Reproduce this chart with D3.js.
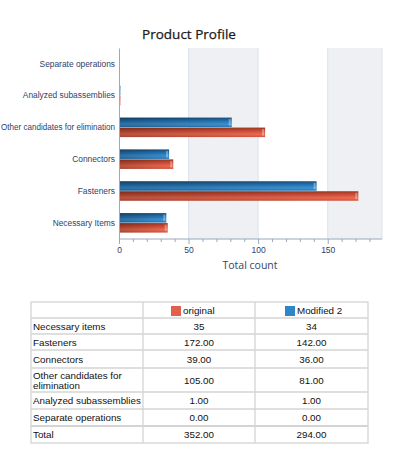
<!DOCTYPE html>
<html>
<head>
<meta charset="utf-8">
<script src="https://cdn.jsdelivr.net/npm/d3@7"></script>
<style>
  body { margin: 0; background: #fff; }
  svg { display: block; }
</style>
</head>
<body>
<div id="chart"></div>
<script>
const categories = ["Necessary Items", "Fasteners", "Connectors", "Other candidates for elimination", "Analyzed subassemblies", "Separate operations"];
const tableCategories = ["Necessary items", "Fasteners", "Connectors", "Other candidates for elimination", "Analyzed subassemblies", "Separate operations"];
const original = [35, 172, 39, 105, 1, 0];
const modified = [34, 142, 36, 81, 1, 0];
const originalLabels = ["35", "172.00", "39.00", "105.00", "1.00", "0.00"];
const modifiedLabels = ["34", "142.00", "36.00", "81.00", "1.00", "0.00"];
const totals = ["352.00", "294.00"];
const seriesNames = ["original", "Modified 2"];
const majorTicks = [0, 50, 100, 150];

const W = 395, H = 458;
const plot = {left: 119, right: 382, top: 48, bottom: 239};

const svg = d3.select("#chart").append("svg").attr("width", W).attr("height", H);
const defs = svg.append("defs");

function barGrad(id, stops) {
    const g = defs.append("linearGradient").attr("id", id)
        .attr("x1", 0).attr("y1", 0).attr("x2", 0).attr("y2", 1);
    stops.forEach(s => g.append("stop").attr("offset", s[0]).attr("stop-color", s[1]));
}
barGrad("gBlue", [[0, "#174f7c"], [0.35, "#2672b0"], [0.7, "#3d93d4"], [1, "#2c76b3"]]);
barGrad("gRed", [[0, "#9e3522"], [0.35, "#cc4f37"], [0.7, "#ee6b52"], [1, "#d2543d"]]);
const shade = defs.append("linearGradient").attr("id", "gShade");
shade.append("stop").attr("offset", 0).attr("stop-color", "#000").attr("stop-opacity", 0.22);
shade.append("stop").attr("offset", 1).attr("stop-color", "#000").attr("stop-opacity", 0);

const x = d3.scaleLinear().domain([0, 189]).range([plot.left, plot.right]);
const y = d3.scaleBand().domain(categories.slice().reverse()).range([plot.top, plot.bottom]);

// title
svg.append("text").attr("x", 189).attr("y", 39).attr("text-anchor", "middle")
    .attr("font-family", "'Open Sans', sans-serif").attr("font-size", 13.5)
    .attr("fill", "#1a1a1a").attr("stroke", "#1a1a1a").attr("stroke-width", 0.25)
    .text("Product Profile");

// alternating bands
const bandEdges = [0, 50, 100, 150, 189];
for (let i = 0; i < bandEdges.length - 1; i++) {
    svg.append("rect").attr("x", x(bandEdges[i])).attr("y", plot.top)
        .attr("width", x(bandEdges[i + 1]) - x(bandEdges[i])).attr("height", plot.bottom - plot.top)
        .attr("fill", i % 2 ? "#eef0f4" : "#ffffff");
}
svg.append("g").selectAll("line").data(majorTicks.slice(1)).join("line")
    .attr("x1", d => x(d)).attr("x2", d => x(d)).attr("y1", plot.top).attr("y2", plot.bottom)
    .attr("stroke", "#dde2ea").attr("stroke-width", 1);
svg.append("line").attr("x1", plot.right).attr("x2", plot.right).attr("y1", plot.top).attr("y2", plot.bottom)
    .attr("stroke", "#dde2ea");

// bars
const barH = 10;
const rows = categories.map((c, i) => ({cat: c, orig: original[i], mod: modified[i]}));
const bars = svg.append("g");
rows.forEach(r => {
    const cy = y(r.cat) + y.bandwidth() / 2;
    [[r.mod, "gBlue", cy - barH], [r.orig, "gRed", cy]].forEach(([v, g, top]) => {
        if (v <= 0) return;
        const w = x(v) - x(0);
        bars.append("rect").attr("x", x(0)).attr("y", top).attr("width", w).attr("height", barH - 0.5)
            .attr("fill", "url(#" + g + ")");
        bars.append("rect").attr("x", x(0)).attr("y", top).attr("width", w).attr("height", barH - 0.5)
            .attr("fill", "url(#gShade)");
        if (w > 4) {
            bars.append("rect").attr("x", x(v) - 3).attr("y", top + 1.5).attr("width", 2).attr("height", barH - 3.5)
                .attr("fill", "#fff").attr("opacity", 0.35);
        }
    });
});

// left axis
const yAxis = svg.append("g").attr("transform", `translate(${plot.left},0)`)
    .call(d3.axisLeft(y).tickSize(0).tickPadding(4));
yAxis.select(".domain").attr("stroke", "#9aa8bd");
yAxis.selectAll("text").attr("font-family", "'Liberation Sans Narrow', 'Arial Narrow', sans-serif")
    .attr("font-size", 8.4).attr("fill", "#2f4268")
    .attr("textLength", function() { return Math.min(this.getComputedTextLength(), 114); })
    .attr("lengthAdjust", "spacingAndGlyphs");

// bottom axis
const xAxis = svg.append("g").attr("transform", `translate(0,${plot.bottom})`)
    .call(d3.axisBottom(x).tickValues(d3.range(0, 190, 10)).tickSize(3)
        .tickFormat(d => majorTicks.includes(d) ? d : ""));
xAxis.select(".domain").attr("stroke", "#9aa8bd").attr("d", `M${plot.left},0H${plot.right}`);
xAxis.selectAll(".tick line").attr("stroke", "#9aa8bd")
    .attr("y2", d => majorTicks.includes(d) ? 5 : 3);
xAxis.selectAll("text").attr("font-family", "'Liberation Sans Narrow', sans-serif")
    .attr("font-size", 8.5).attr("fill", "#2f4268").attr("dy", "0.9em");
svg.append("text").attr("x", 250).attr("y", 269).attr("text-anchor", "middle")
    .attr("font-family", "'Open Sans', sans-serif").attr("font-size", 10.5).attr("fill", "#33466b")
    .text("Total count");

// data table
const tb = {left: 31, right: 368, c1: 143, c2: 255};
const rowTops = [302, 318, 334, 350, 368, 392, 409, 426, 443];
const tg = svg.append("g").attr("font-family", "Arial, 'Liberation Sans', sans-serif")
    .attr("font-size", 9.8).attr("fill", "#111");
tg.append("rect").attr("x", tb.left).attr("y", rowTops[0]).attr("width", tb.right - tb.left)
    .attr("height", rowTops[8] - rowTops[0]).attr("fill", "#fff").attr("stroke", "#d4d4d4").attr("stroke-width", 1.3);
rowTops.slice(1, 8).forEach((ry, i) => {
    tg.append("line").attr("x1", tb.left).attr("x2", tb.right).attr("y1", ry).attr("y2", ry)
        .attr("stroke", "#d4d4d4").attr("stroke-width", i === 6 ? 2 : 1.3);
});
[tb.c1, tb.c2].forEach(cx => tg.append("line").attr("x1", cx).attr("x2", cx)
    .attr("y1", rowTops[0]).attr("y2", rowTops[8]).attr("stroke", "#d4d4d4").attr("stroke-width", 1.3));

const col2 = (tb.c1 + tb.c2) / 2, col3 = (tb.c2 + tb.right) / 2;
// header legend
[["#e0604b", seriesNames[0], 171], ["#2f86c6", seriesNames[1], 285]].forEach(([col, name, sx]) => {
    tg.append("rect").attr("x", sx).attr("y", 306).attr("width", 10).attr("height", 10).attr("fill", col);
    tg.append("text").attr("x", sx + 12).attr("y", 314).text(name);
});
tableCategories.forEach((c, i) => {
    const top = rowTops[i + 1], bot = rowTops[i + 2], mid = (top + bot) / 2;
    const label = tg.append("text").attr("x", tb.left + 2).attr("y", mid + 3.5);
    if (c === "Other candidates for elimination") {
        label.attr("y", mid - 1.5).text("Other candidates for");
        tg.append("text").attr("x", tb.left + 2).attr("y", mid + 8.5).text("elimination");
    } else {
        label.text(c);
    }
    tg.append("text").attr("x", col2).attr("y", mid + 3.5).attr("text-anchor", "middle").text(originalLabels[i]);
    tg.append("text").attr("x", col3).attr("y", mid + 3.5).attr("text-anchor", "middle").text(modifiedLabels[i]);
});
const tmid = (rowTops[7] + rowTops[8]) / 2 + 3.5;
tg.append("text").attr("x", tb.left + 2).attr("y", tmid).text("Total");
tg.append("text").attr("x", col2).attr("y", tmid).attr("text-anchor", "middle").text(totals[0]);
tg.append("text").attr("x", col3).attr("y", tmid).attr("text-anchor", "middle").text(totals[1]);
</script>
</body>
</html>
